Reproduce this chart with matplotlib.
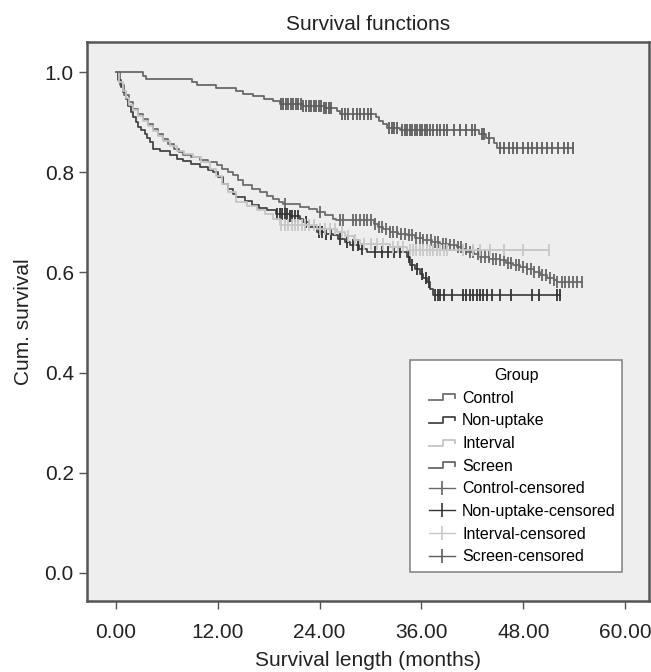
import numpy as np
import matplotlib
matplotlib.use("Agg")
import matplotlib.pyplot as plt
from matplotlib.lines import Line2D
from matplotlib.legend_handler import HandlerBase

plt.rcParams['font.family'] = ['Liberation Sans', 'DejaVu Sans']

# survival step functions (time in months, cumulative survival after the step)
control_t = [0, 0.5, 1.0, 1.5, 2.0, 2.6, 3.2, 3.8, 4.4, 5.0, 5.6, 6.2, 6.8, 7.4, 7.9, 8.8, 9.9, 10.8,
             11.9, 12.5, 13.2, 13.8, 14.4, 15.0, 16.0, 17.0, 17.8, 18.5, 19.2, 19.7, 21.7, 22.7, 23.7,
             24.6, 25.6, 25.9, 30.4, 30.9, 31.5, 32.3, 33.2, 34.3, 35.2, 36.2, 37.2, 38.2, 39.2, 40.2,
             40.8, 41.3, 42.2, 42.9, 44.0, 45.3, 46.0, 46.8, 47.6, 48.4, 49.2, 50.0, 50.8, 51.6, 52.0]
control_s = [1.0, 0.975, 0.955, 0.940, 0.927, 0.917, 0.907, 0.897, 0.887, 0.877, 0.867, 0.857, 0.847,
             0.840, 0.834, 0.830, 0.824, 0.820, 0.814, 0.806, 0.800, 0.794, 0.784, 0.774, 0.767, 0.760,
             0.753, 0.747, 0.741, 0.737, 0.731, 0.726, 0.721, 0.714, 0.707, 0.704, 0.697, 0.691, 0.686,
             0.681, 0.677, 0.674, 0.669, 0.664, 0.660, 0.657, 0.654, 0.651, 0.646, 0.641, 0.636, 0.631,
             0.627, 0.624, 0.619, 0.614, 0.610, 0.607, 0.601, 0.594, 0.589, 0.584, 0.581]
control_end = 54.9
control_cens = [19.9, 24.1, 26.4, 26.8, 27.9, 28.3, 28.7, 29.2, 29.6, 30.0, 30.5, 31.0, 31.4, 31.8, 32.3,
                32.7, 33.1, 33.6, 34.0, 34.5, 34.9, 35.3, 35.8, 36.2, 36.7, 37.1, 37.6, 38.0, 38.5, 38.9,
                39.4, 39.8, 40.3, 40.7, 41.2, 41.7, 42.1, 42.6, 43.0, 43.5, 43.9, 44.4, 44.8, 45.3, 45.7,
                46.2, 46.6, 47.1, 47.5, 48.0, 48.4, 48.9, 49.3, 49.8, 50.2, 50.7, 51.1, 51.6, 52.0, 52.5,
                52.9, 53.4, 53.8, 54.3, 54.9]

nonup_t = [0, 0.3, 0.6, 0.86, 1.15, 1.45, 1.75, 2.04, 2.35, 2.63, 3.0, 3.4, 3.7, 4.0, 4.4, 5.2, 6.4, 7.2,
           7.9, 8.8, 9.9, 10.8, 11.5, 12.0, 12.6, 13.2, 13.8, 14.2, 15.2, 16.0, 16.9, 17.8, 18.9, 20.5,
           21.7, 22.1, 22.8, 23.7, 24.6, 25.6, 26.2, 27.0, 27.6, 28.6, 29.6, 34.3, 34.7, 35.2, 35.8,
           36.2, 36.6, 37.0, 37.4]
nonup_s = [1.0, 0.985, 0.970, 0.960, 0.946, 0.933, 0.921, 0.910, 0.900, 0.890, 0.884, 0.877, 0.868,
           0.860, 0.846, 0.842, 0.834, 0.827, 0.823, 0.817, 0.810, 0.805, 0.800, 0.790, 0.776, 0.766,
           0.757, 0.750, 0.742, 0.735, 0.729, 0.724, 0.717, 0.713, 0.706, 0.700, 0.690, 0.681, 0.677,
           0.674, 0.666, 0.660, 0.654, 0.647, 0.641, 0.631, 0.614, 0.606, 0.597, 0.589, 0.581, 0.567,
           0.554]
nonup_end = 52.3
nonup_cens = [19.0, 19.3, 19.6, 19.9, 20.2, 20.5, 20.8, 21.1, 21.4, 22.4, 23.9, 24.3, 24.8, 25.3, 26.4,
              27.2, 27.9, 28.5, 29.0, 30.5, 31.3, 32.0, 32.8, 33.5, 34.5, 34.9, 35.5, 36.1, 36.5, 36.9,
              37.6, 37.9, 38.2, 38.6, 39.6, 40.9, 41.3, 41.7, 42.1, 42.5, 42.9, 43.3, 43.7, 44.3, 45.3,
              46.5, 49.0, 49.8, 52.0, 52.3]

interval_t = [0, 0.4, 0.8, 1.2, 1.6, 2.0, 2.6, 3.2, 3.8, 4.4, 5.0, 5.6, 6.4, 7.2, 8.0, 9.1, 10.0, 11.1,
              11.8, 12.5, 13.2, 14.2, 15.4, 16.6, 17.6, 18.5, 19.3, 23.7, 26.0, 27.0, 28.0, 28.8, 32.3,
              34.3]
interval_s = [1.0, 0.980, 0.962, 0.948, 0.935, 0.924, 0.912, 0.902, 0.892, 0.882, 0.872, 0.862, 0.852,
              0.843, 0.836, 0.830, 0.820, 0.807, 0.792, 0.776, 0.760, 0.740, 0.732, 0.724, 0.716, 0.707,
              0.694, 0.687, 0.681, 0.672, 0.664, 0.657, 0.651, 0.644]
interval_end = 51.0
interval_cens = [19.5, 19.9, 20.3, 20.7, 21.1, 21.5, 21.9, 22.3, 22.8, 23.3, 24.0, 24.6, 25.2, 25.8,
                 26.6, 27.4, 28.2, 29.2, 30.0, 30.8, 31.5, 32.6, 33.2, 33.8, 34.6, 35.0, 35.4, 35.8,
                 36.2, 36.6, 37.0, 37.4, 37.8, 38.2, 38.6, 39.0, 40.9, 42.1, 42.9, 44.1, 45.7, 47.9,
                 51.0]

screen_t = [0, 3.2, 3.6, 9.0, 9.6, 11.8, 14.2, 15.0, 16.2, 17.5, 18.5, 19.3, 22.0, 24.5, 26.0, 26.4,
            30.6, 31.0, 31.5, 31.9, 33.5, 42.8, 43.6, 44.5, 44.9]
screen_s = [1.0, 0.993, 0.987, 0.980, 0.975, 0.968, 0.962, 0.957, 0.952, 0.947, 0.942, 0.936, 0.932,
            0.928, 0.922, 0.916, 0.910, 0.903, 0.896, 0.889, 0.884, 0.876, 0.868, 0.859, 0.848]
screen_end = 53.9
screen_cens = [19.4, 19.7, 20.0, 20.3, 20.6, 20.9, 21.2, 21.5, 21.8, 22.1, 22.4, 22.7, 23.0, 23.3,
               23.6, 23.9, 24.2, 24.5, 24.8, 25.1, 25.4, 26.6, 27.0, 27.4, 27.9, 28.4, 28.8, 29.2,
               29.7, 30.1, 32.2, 32.5, 32.8, 33.1, 33.7, 34.0, 34.3, 34.6, 34.9, 35.2, 35.5, 35.8,
               36.1, 36.4, 36.7, 37.0, 37.3, 37.8, 38.2, 38.6, 39.0, 39.8, 40.5, 41.2, 41.9, 42.3,
               43.1, 43.4, 43.9, 45.2, 45.7, 46.3, 46.8, 47.3, 47.9, 48.5, 49.0, 49.6, 50.2, 50.8,
               51.4, 52.1, 52.8, 53.3, 53.9]

groups = ["Control", "Non-uptake", "Interval", "Screen"]
line_colors = ["#6e6e6e", "#464646", "#c4c4c4", "#686868"]
cens_colors = ["#666666", "#333333", "#c8c8c8", "#5c5c5c"]

series = [
    (control_t, control_s, control_end, control_cens),
    (nonup_t, nonup_s, nonup_end, nonup_cens),
    (interval_t, interval_s, interval_end, interval_cens),
    (screen_t, screen_s, screen_end, screen_cens),
]


class StepHandler(HandlerBase):
    def create_artists(self, legend, orig_handle, xdescent, ydescent, width, height, fontsize, trans):
        x0 = -xdescent + width * 0.3
        w = width * 0.7
        y0 = -ydescent
        xs = [x0, x0 + w * 0.55, x0 + w * 0.55, x0 + w, x0 + w]
        ys = [y0 + height * 0.2, y0 + height * 0.2, y0 + height * 0.75, y0 + height * 0.75, y0 + height * 0.45]
        ln = Line2D(xs, ys, color=orig_handle.get_color(), lw=orig_handle.get_linewidth())
        ln.set_transform(trans)
        return [ln]


class CensorHandler(HandlerBase):
    def create_artists(self, legend, orig_handle, xdescent, ydescent, width, height, fontsize, trans):
        x0 = -xdescent + width * 0.3
        w = width * 0.7
        ym = -ydescent + height * 0.5
        ln = Line2D([x0, x0 + w], [ym, ym], color=orig_handle.get_color(), lw=1.0)
        ln.set_transform(trans)
        tick = Line2D([x0 + w / 2], [ym], marker='|', markersize=10, mew=1.2,
                      color=orig_handle.get_color(), linestyle='none')
        tick.set_transform(trans)
        return [ln, tick]


fig = plt.figure(figsize=(6.51, 6.72), dpi=100)
ax = fig.add_axes([87 / 651, 71 / 672, 562 / 651, 559 / 672])
ax.set_facecolor("#eeeeee")

for (t, s, end, cens), lc, cc in zip(series, line_colors, cens_colors):
    t = np.array(t)
    s = np.array(s)
    ax.plot(np.append(t, end), np.append(s, s[-1]), drawstyle='steps-post', color=lc, lw=1.3)
    cens = np.array(cens)
    idx = np.searchsorted(t, cens, side='right') - 1
    ax.plot(cens, s[idx], linestyle='none', marker='|', markersize=8, mew=1.3, color=cc)

ax.set_xlim(-3.4, 62.8)
ax.set_ylim(-0.056, 1.06)
ax.set_xticks([0, 12, 24, 36, 48, 60])
ax.set_xticklabels(["%.2f" % v for v in [0, 12, 24, 36, 48, 60]])
ax.set_yticks([0, 0.2, 0.4, 0.6, 0.8, 1.0])
ax.set_yticklabels(["%.1f" % v for v in [0, 0.2, 0.4, 0.6, 0.8, 1.0]])
ax.tick_params(axis='both', labelsize=15, colors='#222222', length=5.5, width=1.0)
ax.tick_params(axis='both', color='#555555')
ax.tick_params(axis='x', pad=10)
ax.tick_params(axis='y', pad=4)
for sp in ax.spines.values():
    sp.set_color("#555555")
    sp.set_linewidth(1.8)

ax.set_title("Survival functions", fontsize=15, pad=9, color='#222222')
ax.set_xlabel("Survival length (months)", fontsize=15, labelpad=6.5, color='#222222')
ax.set_ylabel("Cum. survival", fontsize=15, labelpad=8, color='#222222')

step_handles = [Line2D([], [], color=c, lw=1.3) for c in line_colors]
cens_handles = [Line2D([], [], color=c, lw=1.0) for c in cens_colors]
labels = groups + [g + "-censored" for g in groups]
hmap = {h: StepHandler() for h in step_handles}
hmap.update({h: CensorHandler() for h in cens_handles})
leg = ax.legend(step_handles + cens_handles, labels, handler_map=hmap, title="Group",
                loc='upper left', bbox_to_anchor=(0.575, 0.05, 0.377, 0.381), mode='expand',
                borderaxespad=0, fontsize=11.5, title_fontsize=11.5, frameon=True, fancybox=False,
                handlelength=2.3, handletextpad=0.45, labelspacing=0.48, borderpad=0.5)
leg.get_frame().set_edgecolor("#888888")
leg.get_frame().set_linewidth(1.2)
leg.get_frame().set_facecolor("white")
leg.get_frame().set_alpha(1)

fig.savefig("out.png", dpi=100, facecolor="white")
